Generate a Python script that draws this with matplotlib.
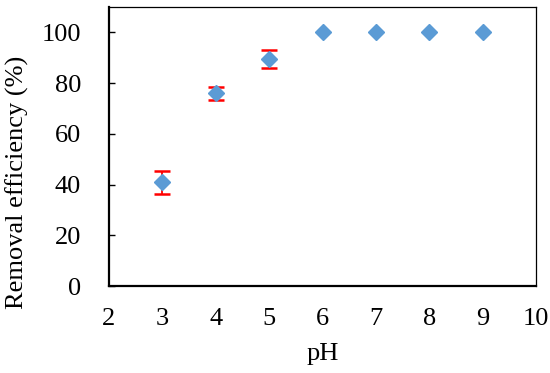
import matplotlib
matplotlib.use("Agg")
from matplotlib import pyplot as plt

plt.rcParams['font.family'] = ['Liberation Serif', 'DejaVu Serif']

# pH 和去除率
ph = [3, 4, 5, 6, 7, 8, 9]
removal = [41, 76, 89.5, 100, 100, 100, 100]
err = [4.5, 2.5, 3.5, 0, 0, 0, 0]

fig = plt.figure(figsize=(5.5, 3.73), dpi=100)
ax = fig.add_axes([0.198, 0.233, 0.777, 0.748])

ax.errorbar(ph[:3], removal[:3], yerr=err[:3], fmt='none', ecolor='#FF0000',
            elinewidth=1.3, capsize=5.5, capthick=1.8, zorder=2)
ax.plot(ph, removal, linestyle='none', marker='D', markersize=8,
        color='#5B9BD5', zorder=3)

ax.set_xlim(2, 10)
ax.set_ylim(0, 110)
ax.set_xticks(range(2, 11))
ax.set_yticks(range(0, 101, 20))
ax.tick_params(labelsize=19)
ax.tick_params(axis='y', direction='in', length=4, width=1, pad=20)
ax.tick_params(axis='x', length=0, pad=16)
ax.spines['left'].set_linewidth(1.6)
ax.spines['bottom'].set_linewidth(1.6)
ax.spines['top'].set_linewidth(0.9)
ax.spines['right'].set_linewidth(0.9)

ax.set_xlabel('pH', fontsize=19, labelpad=9)
ax.set_ylabel('Removal efficiency (%)', fontsize=19, labelpad=9, y=0.37)

plt.savefig('out.png', dpi=100)
